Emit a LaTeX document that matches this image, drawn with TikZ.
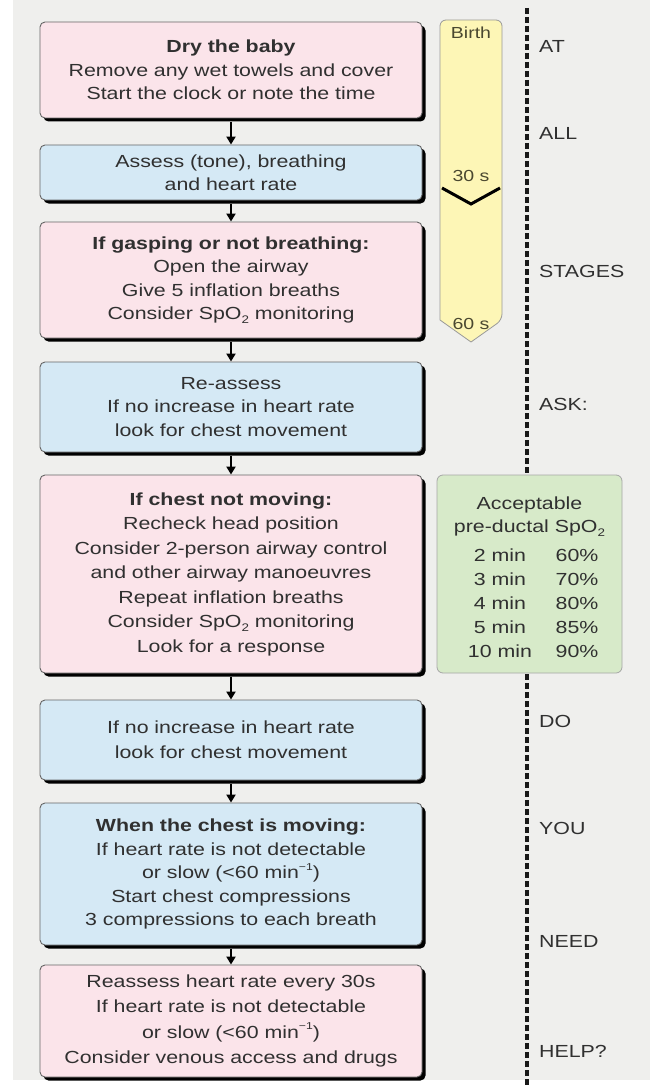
\documentclass[tikz,border=0pt]{standalone}
\usepackage{fontspec}
\setmainfont[FakeStretch=1.22]{Liberation Sans}
\usetikzlibrary{arrows.meta}
\definecolor{bgc}{HTML}{EFEFED}
\definecolor{pinkc}{HTML}{FBE4EA}
\definecolor{bluec}{HTML}{D5E9F5}
\definecolor{yellowc}{HTML}{FDF6B6}
\definecolor{greenc}{HTML}{D7EAC9}
\definecolor{txtc}{HTML}{303030}
\definecolor{olivec}{HTML}{4A4830}
\newcommand\subtwo{\raisebox{-0.4ex}[0pt][0pt]{\fontsize{11}{11}\selectfont 2}}
\newcommand\minusone{\raisebox{0.9ex}[0pt][0pt]{\fontsize{10}{10}\selectfont −1}}
\newcommand\boxfont{\fontsize{17.5}{23.5}\selectfont}
\newcommand\myshadow[2]{\fill[shadowbox] (43.5,#1+3.5) rectangle (425.5,#2+3.5);}
\tikzset{
  fbox/.style={rectangle, rounded corners=5pt, draw=black!60, line width=0.9pt,
    minimum width=382pt, text width=372pt, align=center, inner sep=0pt,
    font=\boxfont, text=txtc},
  pinkbox/.style={fbox, fill=pinkc},
  bluebox/.style={fbox, fill=bluec},
  shadowbox/.style={fill=black, rounded corners=5pt},
  arr/.style={line width=2pt, black, -{Triangle[width=9pt,length=8pt]}},
  sidelabel/.style={anchor=west, inner sep=0pt, font=\fontsize{17.5}{20}\selectfont, text=txtc},
  timelabel/.style={inner sep=0pt, font=\fontsize{16}{18}\selectfont, text=olivec},
  greentext/.style={inner sep=0pt, font=\fontsize{17.5}{23.5}\selectfont, text=txtc, align=center},
  dashline/.style={line width=3.2pt, black!90, dash pattern=on 6pt off 3pt}
}
\begin{document}
\begin{tikzpicture}[x=1pt,y=-1pt]
\useasboundingbox (0,0) rectangle (650,1086);
\fill[white] (0,0) rectangle (650,1086);
\fill[bgc] (13,0) rectangle (650,1080);
% dashed divider
\draw[dashline] (527,8) -- (527,1086);

% timeline bar
\draw[fill=yellowc, draw=black!40, line width=0.8pt, rounded corners=6pt]
  (440,320) -- (440,20) -- (502,20) -- (502,320) [sharp corners] -- (471,342) -- cycle;
\node[timelabel] (birth) at (471,33) {Birth};
\node[timelabel] (t30) at (471,176) {30 s};
\node[timelabel] (t60) at (471,324) {60 s};
\draw[line width=3pt, black, line join=miter] (442,188) -- (471,204) -- (500,188);

% shadows of the main boxes
\myshadow{22}{118}
\myshadow{145}{200}
\myshadow{222}{338}
\myshadow{362}{452}
\myshadow{475}{673}
\myshadow{700}{780}
\myshadow{803}{945}
\myshadow{965}{1077}

% main boxes
\node[pinkbox, minimum height=96pt] (b1) at (231,70)
  {\textbf{Dry the baby}\\Remove any wet towels and cover\\Start the clock or note the time};
\node[bluebox, minimum height=55pt] (b2) at (231,172.5)
  {Assess (tone), breathing\\and heart rate};
\node[pinkbox, minimum height=116pt] (b3) at (231,280)
  {\textbf{If gasping or not breathing:}\\Open the airway\\Give 5 inflation breaths\\Consider SpO\subtwo\ monitoring};
\node[bluebox, minimum height=90pt] (b4) at (231,407)
  {Re-assess\\If no increase in heart rate\\look for chest movement};
\node[pinkbox, minimum height=198pt, font=\fontsize{17.5}{24.5}\selectfont] (b5) at (231,574)
  {\textbf{If chest not moving:}\\Recheck head position\\Consider 2-person airway control\\and other airway manoeuvres\\Repeat inflation breaths\\Consider SpO\subtwo\ monitoring\\Look for a response};
\node[bluebox, minimum height=80pt, font=\fontsize{17.5}{25}\selectfont] (b6) at (231,740)
  {If no increase in heart rate\\look for chest movement};
\node[bluebox, minimum height=142pt] (b7) at (231,874)
  {\textbf{When the chest is moving:}\\If heart rate is not detectable\\or slow (<60 min\minusone)\\Start chest compressions\\3 compressions to each breath};
\node[pinkbox, minimum height=112pt, font=\fontsize{17.5}{25.5}\selectfont] (b8) at (231,1021)
  {Reassess heart rate every 30s\\If heart rate is not detectable\\or slow (<60 min\minusone)\\Consider venous access and drugs};

% arrows
\draw[arr] ([yshift=-3.5pt]b1.south) -- (b2.north);
\draw[arr] ([yshift=-3.5pt]b2.south) -- (b3.north);
\draw[arr] ([yshift=-3.5pt]b3.south) -- (b4.north);
\draw[arr] ([yshift=-3.5pt]b4.south) -- (b5.north);
\draw[arr] ([yshift=-3.5pt]b5.south) -- (b6.north);
\draw[arr] ([yshift=-3.5pt]b6.south) -- (b7.north);
\draw[arr] ([yshift=-3.5pt]b7.south) -- (b8.north);

% SpO2 table box
\node[rectangle, rounded corners=6pt, fill=greenc, draw=black!35, line width=0.8pt,
  minimum width=185pt, minimum height=198pt, inner sep=0pt] (spo) at (529.5,574) {};
\node[greentext] (acc) at (529.5,516.5) {Acceptable\\pre-ductal SpO\subtwo};
\node[greentext] (m2) at (500,555) {2 min};
\node[greentext] (p2) at (577,555) {60\%};
\node[greentext] (m3) at (500,579) {3 min};
\node[greentext] (p3) at (577,579) {70\%};
\node[greentext] (m4) at (500,603) {4 min};
\node[greentext] (p4) at (577,603) {80\%};
\node[greentext] (m5) at (500,627) {5 min};
\node[greentext] (p5) at (577,627) {85\%};
\node[greentext] (m10) at (500,651) {10 min};
\node[greentext] (p10) at (577,651) {90\%};

% side words
\node[sidelabel] (w1) at (539,46) {AT};
\node[sidelabel] (w2) at (539,133) {ALL};
\node[sidelabel] (w3) at (539,271) {STAGES};
\node[sidelabel] (w4) at (539,404) {ASK:};
\node[sidelabel] (w5) at (539,721) {DO};
\node[sidelabel] (w6) at (539,828) {YOU};
\node[sidelabel] (w7) at (539,941) {NEED};
\node[sidelabel] (w8) at (539,1051) {HELP?};
\end{tikzpicture}
\end{document}
